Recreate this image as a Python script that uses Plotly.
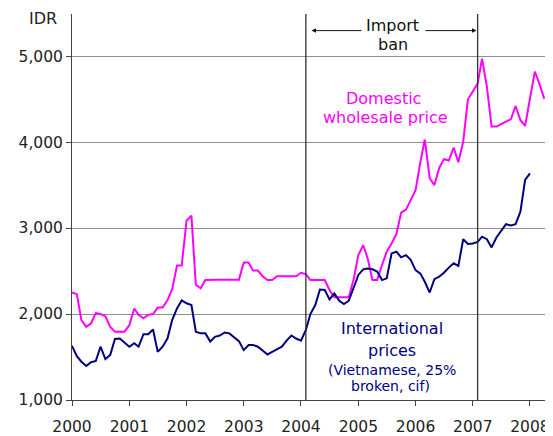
import pandas as pd
import plotly.graph_objects as go

# Monthly observations, Jan 2000 onwards
domestic_start = "2000-01-01"
domestic_price = [
    2250, 2230, 1930, 1850, 1890, 2010, 2000, 1975, 1850, 1795, 1795, 1795,  # 2000
    1870, 2065, 1990, 1950, 1990, 2000, 2075, 2075, 2160, 2290, 2565, 2565,  # 2001
    3085, 3145, 2340, 2300, 2395, 2400, 2400, 2400, 2400, 2400, 2400, 2400,  # 2002
    2600, 2600, 2505, 2505, 2440, 2395, 2395, 2440, 2440, 2440, 2440, 2440,  # 2003
    2480, 2465, 2395, 2395, 2395, 2395, 2280, 2195, 2195, 2195, 2195, 2395,  # 2004
    2685, 2800, 2650, 2395, 2395, 2570, 2725, 2820, 2930, 3180, 3215, 3325,  # 2005
    3440, 3770, 4030, 3580, 3500, 3700, 3800, 3785, 3935, 3765, 4005, 4495,  # 2006
    4585, 4680, 4970, 4645, 4180, 4180, 4210, 4240, 4265, 4420, 4255, 4190,  # 2007
    4490, 4820, 4680, 4505,                                                  # 2008
]
international_price = [
    1630, 1510, 1445, 1395, 1440, 1455, 1620, 1475, 1525, 1710, 1715, 1670,  # 2000
    1620, 1660, 1620, 1765, 1765, 1820, 1560, 1620, 1715, 1930, 2065, 2160,  # 2001
    2125, 2105, 1795, 1775, 1775, 1680, 1735, 1750, 1785, 1775, 1730, 1685,  # 2002
    1580, 1640, 1640, 1620, 1575, 1530, 1560, 1595, 1620, 1690, 1750, 1715,  # 2003
    1690, 1815, 2000, 2105, 2285, 2280, 2170, 2240, 2155, 2115, 2155, 2300,  # 2004
    2455, 2520, 2530, 2520, 2495, 2395, 2415, 2705, 2725, 2660, 2685, 2630,  # 2005
    2510, 2470, 2375, 2250, 2405, 2435, 2480, 2540, 2590, 2560, 2870, 2815,  # 2006
    2820, 2840, 2900, 2870, 2775, 2890, 2960, 3045, 3030, 3045, 3190, 3560,  # 2007
    3635,                                                                    # 2008
]
domestic_months = pd.date_range(domestic_start, periods=len(domestic_price), freq="MS")
international_months = pd.date_range(domestic_start, periods=len(international_price), freq="MS")

year_ticks = [f"{y}-01-01" for y in range(2000, 2009)]
year_labels = [str(y) for y in range(2000, 2009)]
y_ticks = [1000, 2000, 3000, 4000, 5000]
y_labels = ["1,000", "2,000", "3,000", "4,000", "5,000"]
ban_start = "2004-02-01"
ban_end = "2007-02-01"

FONT = "DejaVu Sans"
MAGENTA = "#FF00FF"
NAVY = "#000080"

fig = go.Figure()
fig.add_trace(go.Scatter(x=domestic_months, y=domestic_price, mode="lines",
                         line=dict(color=MAGENTA, width=2), name="Domestic wholesale price"))
fig.add_trace(go.Scatter(x=international_months, y=international_price, mode="lines",
                         line=dict(color=NAVY, width=2), name="International prices"))

for d in (ban_start, ban_end):
    fig.add_shape(type="line", xref="x", yref="paper", x0=d, x1=d, y0=0, y1=1,
                  line=dict(color="#333333", width=1.3))

def label(text, x, y, color, size):
    fig.add_annotation(text=text, xref="paper", yref="paper", x=x, y=y,
                       xanchor="center", yanchor="middle", showarrow=False,
                       font=dict(family=FONT, size=size, color=color))

label("IDR", -0.061, 0.989, "#222222", 16)
label("Import", 0.674, 0.9715, "#111111", 16)
label("ban", 0.674, 0.920, "#111111", 16)
label("Domestic", 0.654, 0.7816, MAGENTA, 16)
label("wholesale price", 0.6576, 0.7314, MAGENTA, 16)
label("International", 0.6716, 0.1858, NAVY, 16)
label("prices", 0.6716, 0.1295, NAVY, 16)
label("(Vietnamese, 25%", 0.672, 0.0777, NAVY, 14)
label("broken, cif)", 0.670, 0.0363, NAVY, 14)

for x, ax in ((0.5032, 51.5), (0.8498, -52.5)):
    fig.add_annotation(text="", xref="paper", yref="paper", x=x, y=0.957,
                       ax=ax, ay=0, showarrow=True, arrowhead=2, arrowsize=0.9,
                       arrowwidth=1, arrowcolor="#111111", standoff=0, startstandoff=0)

# page body adds an 8px offset, so the figure is sized/margined to compensate
fig.update_layout(
    width=545, height=428,
    margin=dict(l=64, r=5, t=6, b=36, autoexpand=False),
    paper_bgcolor="white", plot_bgcolor="white",
    showlegend=False,
    font=dict(family=FONT, size=15.5, color="#222222"),
    xaxis=dict(type="date", range=["2000-01-01", "2008-04-25"],
               tickvals=year_ticks, ticktext=year_labels,
               showgrid=False, zeroline=False,
               showline=True, linecolor="#444444", linewidth=1,
               ticks="outside", ticklen=5, tickcolor="#444444",
               ticklabelstandoff=7,
               tickfont=dict(family=FONT, size=15.5, color="#222222")),
    yaxis=dict(range=[1000, 5490], tickvals=y_ticks, ticktext=y_labels,
               showgrid=True, gridcolor="#8f8f8f", gridwidth=1, zeroline=False,
               showline=True, linecolor="#444444", linewidth=1,
               ticks="outside", ticklen=5, tickcolor="#444444",
               tickfont=dict(family=FONT, size=15.5, color="#222222")),
)

fig.write_html("out.html")
